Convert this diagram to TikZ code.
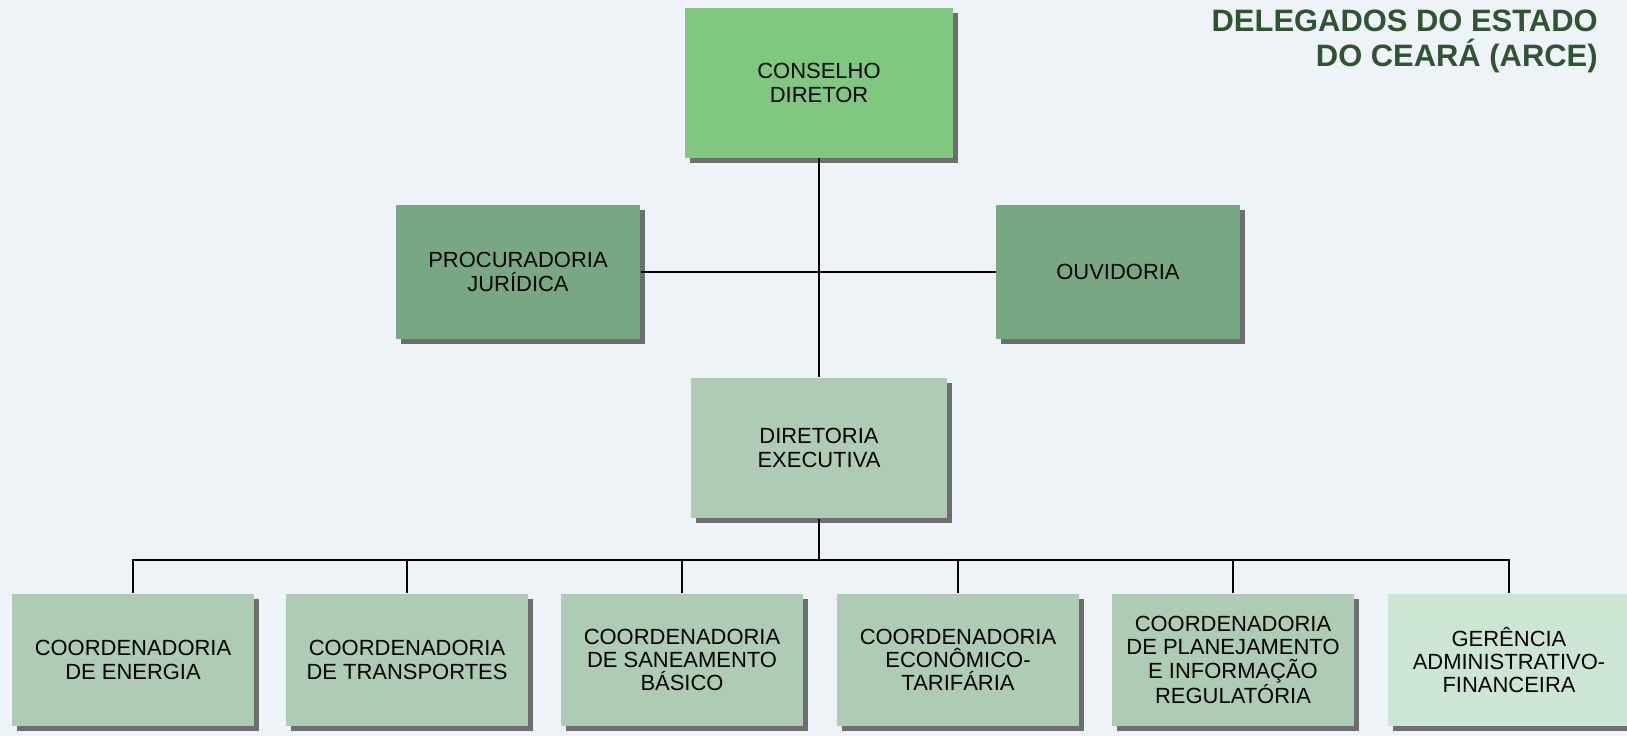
\documentclass[tikz,border=0pt]{standalone}
\usepackage{fontspec}
\setmainfont{Liberation Sans}
\usepackage{tikz}
\usetikzlibrary{positioning, shadows, calc}

\definecolor{bgpanel}{HTML}{EEF3F8}
\definecolor{greentop}{HTML}{80C77F}
\definecolor{greenmid}{HTML}{77A883}
\definecolor{greenlow}{HTML}{ADCCB3}
\definecolor{greenpale}{HTML}{CDE6D3}
\definecolor{titlegreen}{HTML}{2E5530}
\definecolor{shadowgray}{HTML}{6E6E70}

\begin{document}
\begin{tikzpicture}[x=0.02cm, y=0.02cm]
		\tikzstyle{orgbox}=[minimum height=2.66cm, minimum width=4.84cm, inner sep=0pt, align=center, text=black, fill=greenlow, font=\fontsize{12.5}{13.2}\selectfont, drop shadow={shadow xshift=0.1cm, shadow yshift=-0.1cm, fill=shadowgray, opacity=1}]
		\tikzstyle{wire}=[draw=black, line width=1.1pt]
		\tikzstyle{titletext}=[anchor=base east, inner sep=0pt, text=titlegreen, font=\bfseries\fontsize{17.6}{20}\selectfont]
		
		\useasboundingbox (0,0) rectangle (1627,-736);
		\clip (0,0) rectangle (1627,-736);
		\fill [bgpanel] (0,0) rectangle (1627,-736);
		
		\node (title1) at (1598,-32) [titletext] {DELEGADOS DO ESTADO};
		\node (title2) at (1598,-67) [titletext] {DO CEARÁ (ARCE)};
		
		\node (cons) at (819,-83) [orgbox, fill=greentop, minimum width=5.36cm, minimum height=3.0cm] {CONSELHO\\DIRETOR};
		\node (proc) at (518,-272) [orgbox, fill=greenmid, minimum width=4.9cm, minimum height=2.7cm] {PROCURADORIA\\JURÍDICA};
		\node (ouv) at (1118,-272) [orgbox, fill=greenmid, minimum width=4.88cm, minimum height=2.7cm] {OUVIDORIA};
		\node (dir) at (819,-448) [orgbox, minimum width=5.12cm, minimum height=2.82cm] {DIRETORIA\\EXECUTIVA};
		
		\node (c1) at (133,-660) [orgbox] {COORDENADORIA\\DE ENERGIA};
		\node (c2) at (407,-660) [orgbox] {COORDENADORIA\\DE TRANSPORTES};
		\node (c3) at (682,-660) [orgbox] {COORDENADORIA\\DE SANEAMENTO\\BÁSICO};
		\node (c4) at (958,-660) [orgbox] {COORDENADORIA\\ECONÔMICO-\\TARIFÁRIA};
		\node (c5) at (1233,-660) [orgbox] {COORDENADORIA\\DE PLANEJAMENTO\\E INFORMAÇÃO\\REGULATÓRIA};
		\node (g6) at (1509,-660) [orgbox, fill=greenpale] {GERÊNCIA\\ADMINISTRATIVO-\\FINANCEIRA};
		
		\coordinate (bus) at (819,-560);
		\draw [wire] (cons) -- (dir);
		\draw [wire] (proc) -- (ouv);
		\draw [wire] (dir) -- (bus);
		\draw [wire] (c1) |- (bus) -| (g6);
		\foreach \n in {c2,c3,c4,c5}
			\draw [wire] (\n) -- (\n |- bus);
		
\end{tikzpicture}
\end{document}
